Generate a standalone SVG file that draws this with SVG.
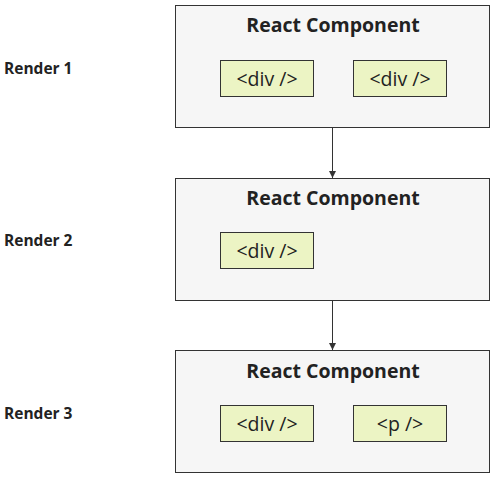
<svg xmlns="http://www.w3.org/2000/svg" width="500" height="480" viewBox="0 0 500 480">
<style>
.outer{fill:#f6f6f6;stroke:#333;stroke-width:1}
.inner{fill:#ecf4c4;stroke:#333;stroke-width:1}
.title{font-family:"Open Sans",sans-serif;font-weight:bold;font-size:19.5px;fill:#222;text-anchor:middle}
.tag{font-family:"Open Sans",sans-serif;font-size:19.5px;fill:#222;text-anchor:middle}
.lbl{font-family:"Open Sans",sans-serif;font-weight:bold;font-size:15.5px;fill:#222}
.conn{stroke:#333;stroke-width:1;fill:none}
</style>
<defs>
<marker id="ah" viewBox="0 0 10 10" refX="10" refY="5" markerWidth="7" markerHeight="7" orient="auto" markerUnits="userSpaceOnUse">
<path d="M0,0 L10,5 L0,10 z" fill="#333"/>
</marker>
</defs>
<rect width="500" height="480" fill="#fff"/>
<g id="label1"><text class="lbl" x="4" y="74">Render 1</text></g>
<g id="label2"><text class="lbl" x="4" y="246">Render 2</text></g>
<g id="label3"><text class="lbl" x="4" y="419">Render 3</text></g>
<g id="render1">
<rect class="outer" x="175.5" y="5.5" width="314" height="122"/>
<text class="title" x="333" y="32">React Component</text>
<rect class="inner" x="220.5" y="60.5" width="93" height="36"/>
<text class="tag" x="267" y="86">&lt;div /&gt;</text>
<rect class="inner" x="353.5" y="60.5" width="93" height="36"/>
<text class="tag" x="400" y="86">&lt;div /&gt;</text>
</g>
<g id="render2">
<rect class="outer" x="175.5" y="178.5" width="314" height="122"/>
<text class="title" x="333" y="205">React Component</text>
<rect class="inner" x="220.5" y="232.5" width="93" height="36"/>
<text class="tag" x="267" y="258">&lt;div /&gt;</text>
</g>
<g id="render3">
<rect class="outer" x="175.5" y="350.5" width="314" height="122"/>
<text class="title" x="333" y="378">React Component</text>
<rect class="inner" x="220.5" y="405.5" width="93" height="36"/>
<text class="tag" x="267" y="431">&lt;div /&gt;</text>
<rect class="inner" x="353.5" y="405.5" width="93" height="36"/>
<text class="tag" x="400" y="431">&lt;p /&gt;</text>
</g>
<g id="connectors">
<line class="conn" x1="332.5" y1="128" x2="332.5" y2="178" marker-end="url(#ah)"/>
<line class="conn" x1="332.5" y1="301" x2="332.5" y2="350" marker-end="url(#ah)"/>
</g>
</svg>
